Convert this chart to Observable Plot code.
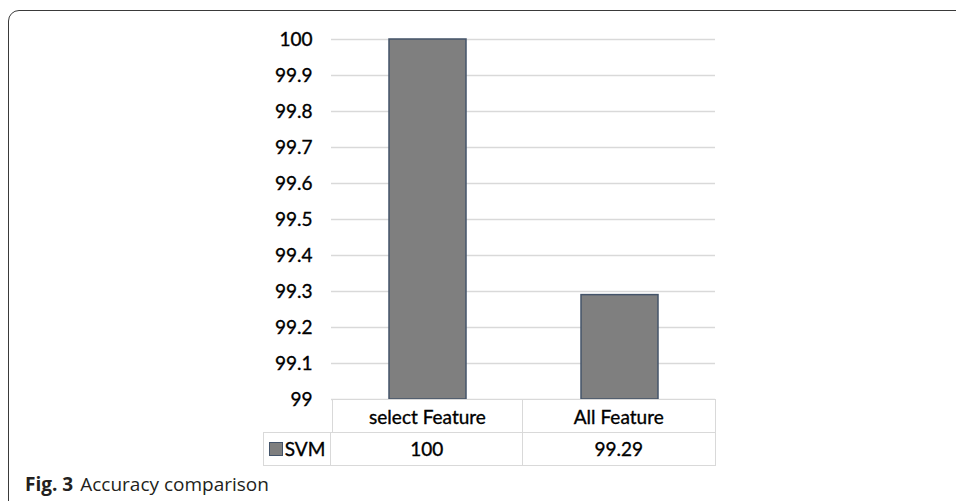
<!DOCTYPE html>
<html>
<head>
<meta charset="utf-8">
<script src="https://cdn.jsdelivr.net/npm/d3@7"></script>
<script src="https://cdn.jsdelivr.net/npm/@observablehq/plot@0.6"></script>
<style>
  html, body { margin: 0; padding: 0; background: #fff; }
  #fig { position: relative; width: 956px; height: 501px; overflow: hidden; font-family: Lato, "Noto Sans", sans-serif; }
  #frame { position: absolute; left: 8px; top: 10px; width: 1200px; height: 800px;
           border: 1.8px solid #3a3a3a; border-radius: 11px; box-sizing: border-box; }
  #chart { position: absolute; left: 0; top: 0; }
  #chart text { stroke: #000; stroke-width: 0.35px; }
  .cell { position: absolute; box-sizing: border-box; border: 1.5px solid #d9d9d9;
          display: flex; align-items: center; justify-content: center;
          font-size: 19px; color: #000; background: #fff; -webkit-text-stroke: 0.35px #000; }
  .swatch { display: inline-block; width: 12px; height: 12px; background: #7f7f7f;
            border: 1.2px solid #44546a; margin-right: 2px; -webkit-text-stroke: 0; }
  #caption { position: absolute; left: 25px; top: 471px; font-family: "Open Sans", "Noto Sans", sans-serif;
             font-size: 19px; color: #231f20; white-space: nowrap; }
  #caption b { font-weight: 700; margin-right: 7px; }
</style>
</head>
<body>
<div id="fig">
  <div id="frame"></div>
  <div id="chart"></div>
  <div id="table"></div>
  <div id="caption"><b>Fig. 3</b>Accuracy comparison</div>
</div>
<script>
// Accuracy of the SVM classifier with the selected features vs. all features
const categories = ["select Feature", "All Feature"];
const seriesName = "SVM";
const svmAccuracy = [100, 99.29];
const yTicks = [99, 99.1, 99.2, 99.3, 99.4, 99.5, 99.6, 99.7, 99.8, 99.9, 100];
const yTickLabels = ["99", "99.1", "99.2", "99.3", "99.4", "99.5", "99.6", "99.7", "99.8", "99.9", "100"];

const rows = categories.map((c, i) => ({category: c, value: svmAccuracy[i]}));

const plot = Plot.plot({
  width: 956,
  height: 501,
  marginLeft: 331,
  marginRight: 241,
  marginTop: 39,
  marginBottom: 102,
  style: {fontFamily: "Lato, 'Noto Sans', sans-serif", color: "#000", background: "transparent"},
  x: {domain: categories, paddingInner: 0.6, paddingOuter: 0.3, axis: null},
  y: {domain: [99, 100], label: null},
  marks: [
    Plot.gridY(yTicks, {stroke: "#d9d9d9", strokeOpacity: 1, strokeWidth: 1.5}),
    Plot.barY(rows, {x: "category", y1: 99, y2: "value", fill: "#7f7f7f", stroke: "#44546a", strokeWidth: 1.5}),
    Plot.axisY(yTicks, {
      tickSize: 0, tickPadding: 19, fontSize: 19, fill: "#000",
      tickFormat: (d) => yTickLabels[yTicks.indexOf(d)], label: null
    })
  ]
});
document.getElementById("chart").appendChild(plot);

// Data table under the plot, aligned with the x bands
const x = plot.scale("x");
const step = x.step;
const left0 = x.apply(categories[0]) - (step - x.bandwidth) / 2;
const top0 = 399, rowH = 34, legendW = 69;
const table = document.getElementById("table");
function cell(left, top, w, h, html) {
  const d = document.createElement("div");
  d.className = "cell";
  Object.assign(d.style, {left: left + "px", top: top + "px", width: w + "px", height: h + "px"});
  d.innerHTML = html;
  table.appendChild(d);
}
categories.forEach((c, i) => cell(left0 + i * step - (i ? 1.5 : 0), top0, step + (i ? 1.5 : 0), rowH, c));
cell(left0 - legendW, top0 + rowH - 1.5, legendW, rowH, `<span class="swatch"></span>${seriesName}`);
svmAccuracy.forEach((v, i) => cell(left0 + i * step - 1.5, top0 + rowH - 1.5, step + 1.5, rowH, String(v)));
</script>
</body>
</html>
